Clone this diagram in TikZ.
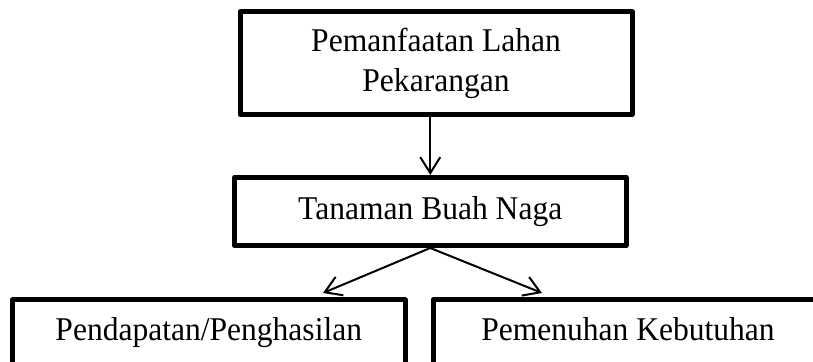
\documentclass[tikz,border=0pt]{standalone}
\usepackage{fontspec}
\setmainfont{Liberation Serif}[FakeStretch=0.95]
\usetikzlibrary{arrows.meta}

\begin{document}
\begin{tikzpicture}[x=0.5pt,y=-0.5pt]
					\tikzstyle{kotak}=[draw,line width=2.5pt,line join=round,inner sep=0pt,font=\fontsize{16.6}{20}\selectfont]
					\tikzstyle{panah}=[-{Straight Barb[length=8pt,width=10pt]},line width=1pt]
					\useasboundingbox (0,0) rectangle (813,362);
					\node (lahan) [kotak, minimum width=196pt, minimum height=51.25pt, align=center] at (436,63.25) {Pemanfaatan Lahan\\Pekarangan};
					\node (naga) [kotak, minimum width=195.75pt, minimum height=34pt] at (430.25,211.5) {Tanaman Buah Naga};
					\node (pendapatan) [kotak, minimum width=196.25pt, text height=20.25pt, text depth=22pt, anchor=north] at (208.75,297.5) {Pendapatan/Penghasilan};
					\node (kebutuhan) [kotak, minimum width=195pt, text height=20.25pt, text depth=22pt, anchor=north] at (628,297.5) {Pemenuhan Kebutuhan};
					\coordinate (ujungkiri) at (323,293);
					\coordinate (ujungkanan) at (542,293);
					\draw[panah] (lahan.south -| naga.north) -- (naga.north);
					\draw[panah] (naga.south) -- (ujungkiri);
					\draw[panah] (naga.south) -- (ujungkanan);
				\end{tikzpicture}
\end{document}
